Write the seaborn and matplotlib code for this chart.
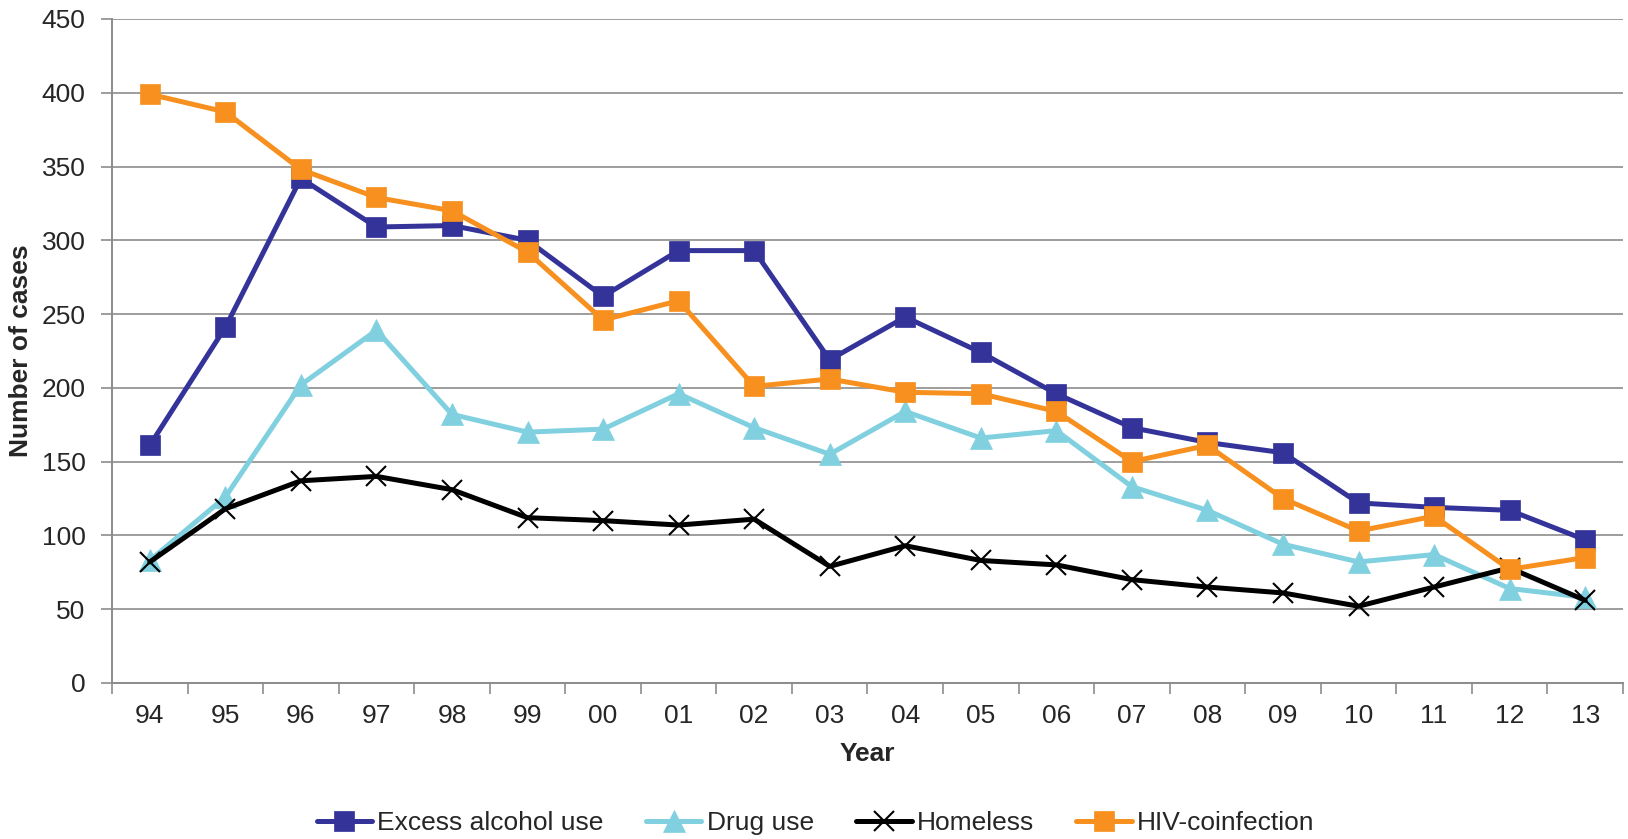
import numpy as np
import pandas as pd
import seaborn as sns
import matplotlib.pyplot as plt

# data
years = ['94', '95', '96', '97', '98', '99', '00', '01', '02', '03',
         '04', '05', '06', '07', '08', '09', '10', '11', '12', '13']
alcohol = [161, 241, 342, 309, 310, 300, 262, 293, 293, 219,
           248, 224, 196, 173, 163, 156, 122, 119, 117, 97]
drug = [83, 126, 202, 239, 182, 170, 172, 196, 173, 155,
        184, 166, 171, 133, 117, 94, 82, 87, 64, 58]
homeless = [82, 118, 137, 140, 131, 112, 110, 107, 111, 79,
            93, 83, 80, 70, 65, 61, 52, 65, 78, 56]
hiv = [399, 387, 348, 329, 320, 292, 246, 259, 201, 206,
       197, 196, 184, 150, 161, 125, 103, 113, 77, 85]

series = [
    ('Excess alcohol use', alcohol, '#333399', 's', 15),
    ('Drug use', drug, '#80D0E0', '^', 15.5),
    ('Homeless', homeless, '#000000', 'x', 15),
    ('HIV-coinfection', hiv, '#F7901E', 's', 15),
]

sns.set_style('white')
plt.rcParams['font.family'] = ['Liberation Sans', 'DejaVu Sans']

fig = plt.figure(figsize=(16.28, 8.39), dpi=100)
ax = fig.add_axes([0.0688, 0.186, 0.9281, 0.7914])

pos = np.arange(len(years))
for name, vals, col, mk, ms in series:
    sns.lineplot(x=pos, y=vals, ax=ax, color=col, marker=mk, markersize=ms,
                 linewidth=3.6, markeredgecolor=col,
                 markeredgewidth=1.5 if mk == 'x' else 0.5,
                 label=name, legend=False)

ax.set_xlim(-0.5, len(years) - 0.5)
ax.set_ylim(0, 450)
ax.set_yticks(np.arange(0, 451, 50))
ax.grid(axis='y', color='#8c8c8c', linewidth=1.2)
ax.set_axisbelow(True)

ax.set_xticks(pos)
ax.set_xticklabels(years)
ax.set_xticks(np.arange(-0.5, len(years), 1), minor=True)
ax.tick_params(axis='x', which='major', length=0, pad=15, labelsize=19)
ax.tick_params(axis='x', which='minor', length=8, width=1.2, color='#8c8c8c',
               direction='out', bottom=True)
ax.tick_params(axis='y', length=8, width=1.2, color='#8c8c8c', pad=11,
               labelsize=19, left=True)

for s in ['top', 'right']:
    ax.spines[s].set_visible(False)
for s in ['left', 'bottom']:
    ax.spines[s].set_color('#8c8c8c')
    ax.spines[s].set_linewidth(1.4)

ax.set_xlabel('Year', fontsize=19, fontweight='bold', labelpad=10)
ax.set_ylabel('Number of cases', fontsize=19, fontweight='bold', labelpad=6)

handles, labels = ax.get_legend_handles_labels()
fig.legend(handles, labels, loc='center', bbox_to_anchor=(0.501, 0.019),
           ncol=4, frameon=False, fontsize=19, handlelength=2.1,
           handletextpad=0.2, columnspacing=1.6, numpoints=1)

fig.savefig('out.png', dpi=100)
